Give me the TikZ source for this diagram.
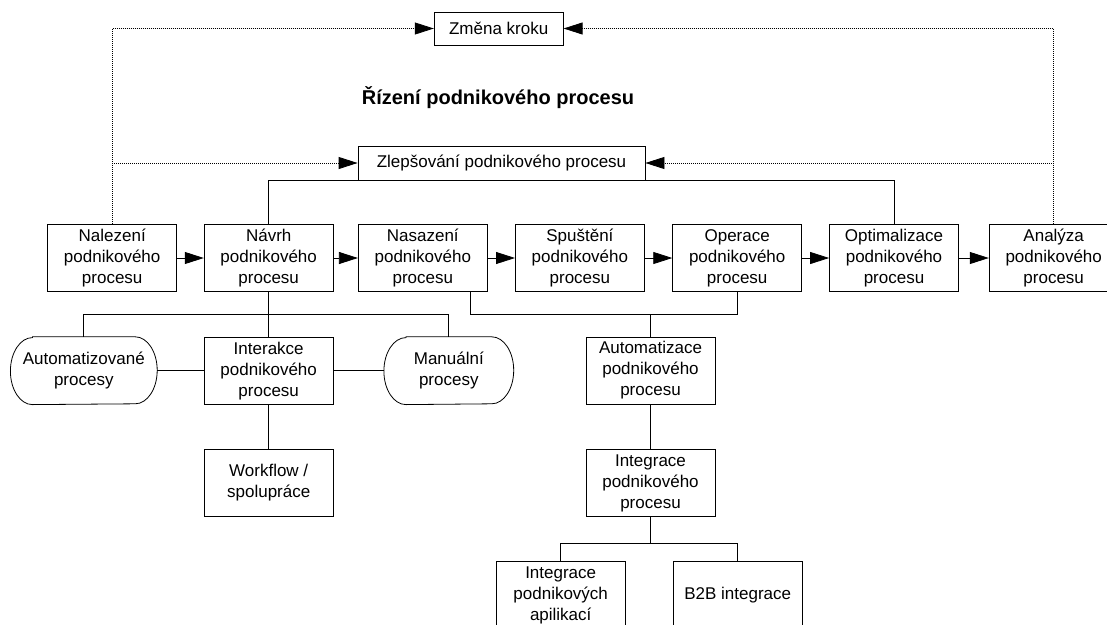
\documentclass[tikz,border=0pt]{standalone}
\usepackage{fontspec}
\setmainfont{Liberation Sans}
\usetikzlibrary{arrows.meta,calc}
\begin{document}
\begin{tikzpicture}[x=1pt,y=-1pt,
  box/.style={draw, line width=0.8pt, minimum width=129pt, minimum height=67pt,
              inner sep=0pt, align=center, font=\fontsize{17}{21}\selectfont},
  capsule/.style={box, draw=none},
  link/.style={line width=0.8pt},
  tip/.style={-{Triangle[length=19pt,width=12pt]}},
  dots/.style={line width=0.8pt, dash pattern=on 1pt off 1pt}]
\useasboundingbox (0,0) rectangle (1107,624);

% feedback targets and heading
\node[box, minimum height=33pt] (zmena) at (498.7,28.5) {Změna kroku};
\node[font=\bfseries\fontsize{20}{24}\selectfont] (title) at (498,98) {Řízení podnikového procesu};
\node[box, minimum width=287pt, minimum height=34pt] (zlep) at (501.5,163) {Zlepšování podnikového procesu};

% main process chain
\node[box] (nal) at (112.2,258) {Nalezení\\podnikového\\procesu};
\node[box] (nav) at (268.7,258) {Návrh\\podnikového\\procesu};
\node[box] (nas) at (422.8,258) {Nasazení\\podnikového\\procesu};
\node[box] (spu) at (579.9,258) {Spuštění\\podnikového\\procesu};
\node[box] (ope) at (737.2,258) {Operace\\podnikového\\procesu};
\node[box] (opt) at (894,258) {Optimalizace\\podnikového\\procesu};
\node[box] (ana) at (1053.7,258) {Analýza\\podnikového\\procesu};

% design branch
\node[capsule, minimum width=146pt] (auto) at (83.8,370.7) {Automatizované\\procesy};
\node[box] (int) at (268.7,370.7) {Interakce\\podnikového\\procesu};
\node[capsule] (man) at (448.8,370.7) {Manuální\\procesy};
\node[box] (wf) at (268.7,482.7) {Workflow /\\spolupráce};

% automation branch
\node[box] (aut) at (650.5,370.5) {Automatizace\\podnikového\\procesu};
\node[box] (integ) at (650.5,483) {Integrace\\podnikového\\procesu};
\node[box] (apl) at (560.7,595) {Integrace\\podnikových\\apilikací};
\node[box] (b2b) at (737.7,595) {B2B integrace};

% capsule outlines with elliptic ends
\foreach \n in {auto,man}
  \draw[link] ($(\n.north west)+(22pt,0)$) -- ($(\n.north east)+(-22pt,0)$)
    arc[start angle=90,end angle=-90,x radius=22pt,y radius=33.5pt]
    -- ($(\n.south west)+(22pt,0)$)
    arc[start angle=270,end angle=90,x radius=22pt,y radius=33.5pt] -- cycle;

% chain arrows
\draw[link,tip] (nal.east) -- (nav.west);
\draw[link,tip] (nav.east) -- (nas.west);
\draw[link,tip] (nas.east) -- (spu.west);
\draw[link,tip] (spu.east) -- (ope.west);
\draw[link,tip] (ope.east) -- (opt.west);
\draw[link,tip] (opt.east) -- (ana.west);

% improvement links
\draw[link] (nav.north) |- (zlep.south west);
\draw[link] (opt.north) |- (zlep.south east);

% dotted feedback
\draw[dots,tip] (nal.north) |- (zmena.west);
\draw[dots,tip] (ana.north) |- (zmena.east);
\draw[dots,tip] (nal.north |- zlep.west) -- (zlep.west);
\draw[dots,tip] (ana.north |- zlep.east) -- (zlep.east);

% design tree
\coordinate (busA) at (268.7,314.3);
\draw[link] (nav.south) -- (int.north);
\draw[link] (auto.north) |- (busA) -| (man.north);
\draw[link] (auto.east) -- (int.west);
\draw[link] (int.east) -- (man.west);
\draw[link] (int.south) -- (wf.north);

% automation tree
\coordinate (nasout) at ([xshift=47.2pt]nas.south);
\coordinate (busB) at (650.5,314.3);
\coordinate (busC) at (650.5,543.3);
\draw[link] (nasout) |- (busB) -| (ope.south);
\draw[link] (aut.north) -- (busB);
\draw[link] (aut.south) -- (integ.north);
\draw[link] (integ.south) -- (busC);
\draw[link] (apl.north) |- (busC) -| (b2b.north);
\end{tikzpicture}
\end{document}
